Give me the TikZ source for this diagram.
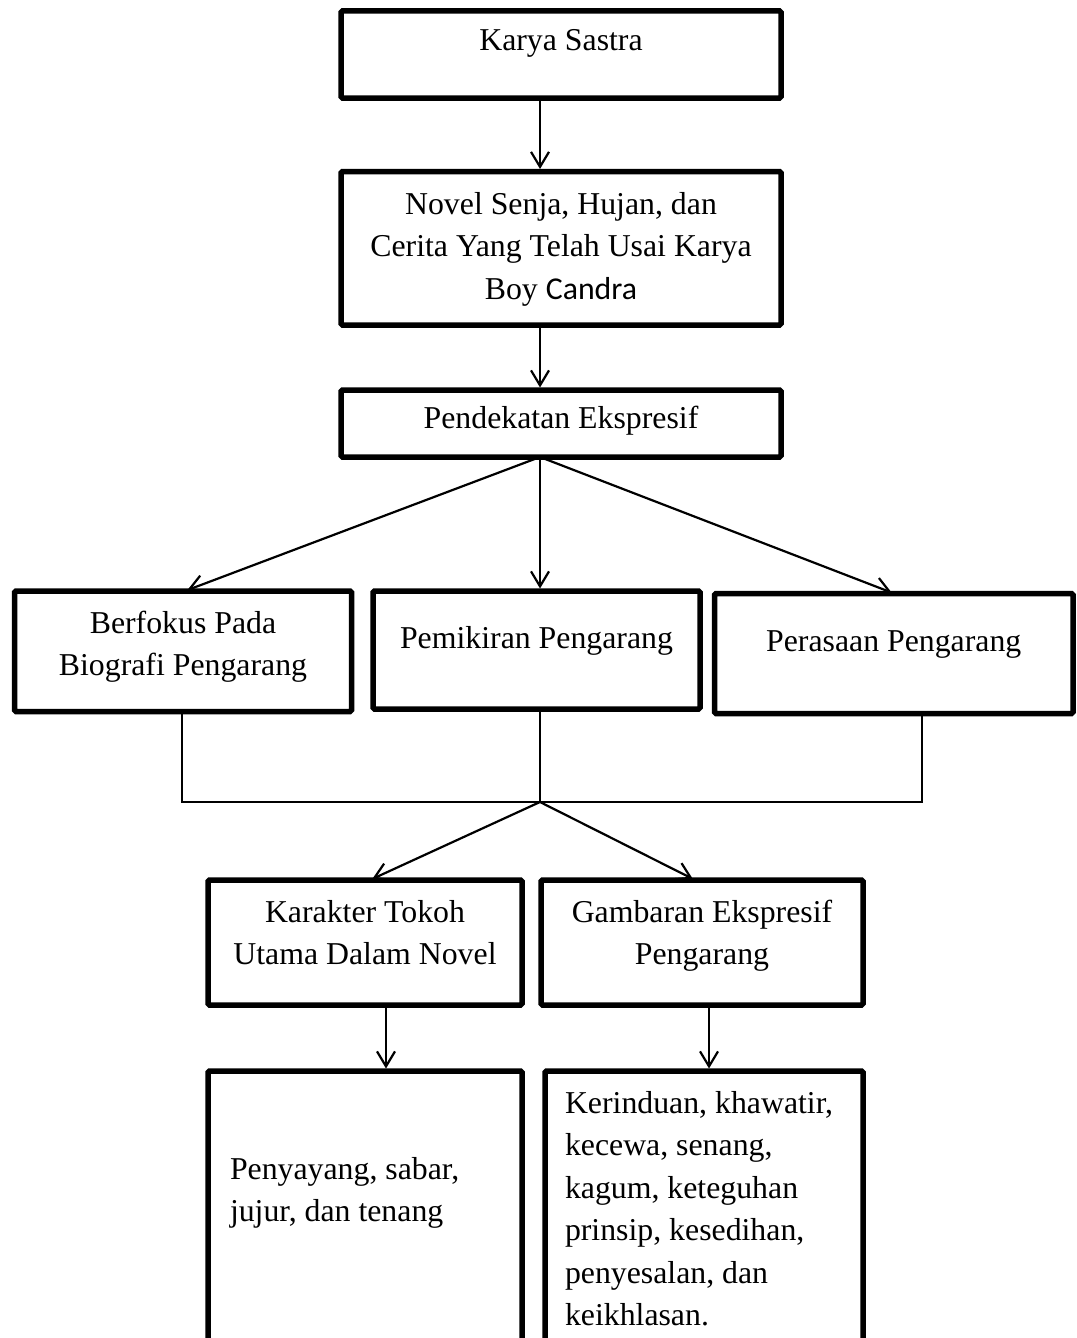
\documentclass[tikz,border=0pt]{standalone}
\usepackage{fontspec}
\setmainfont{Liberation Serif}
\newfontfamily\calibfont{Carlito}
\usetikzlibrary{arrows.meta}
\newcommand\inbox[5]{\begin{minipage}[t][#2][t]{#1}#4\rule{0pt}{#3}#5\end{minipage}}
\begin{document}
\begin{tikzpicture}[x=1pt,y=-1pt,
  box/.style={draw, line width=5.5pt, rounded corners=1.5pt, inner sep=0pt, outer sep=0pt,
    anchor=north west, font=\fontsize{31.8}{42.5}\selectfont},
  ln/.style={line width=2.2pt},
  arr/.style={ln, -{Straight Barb[length=15pt,width=18pt]}, shorten >=2.5pt}]
\path[fill=white, use as bounding box] (0,0) rectangle (1076,1338);
\clip (0,0) rectangle (1076,1338);

\node[box] (n1) at (341,11) {\inbox{440pt}{87pt}{40pt}{\centering}{Karya Sastra}};
\node[box] (n2) at (341,171.5) {\inbox{440pt}{153.5pt}{42.5pt}{\centering}{Novel Senja, Hujan, dan\\Cerita Yang Telah Usai Karya\\Boy {\calibfont Candra}}};
\node[box] (n3) at (341,390) {\inbox{440pt}{67pt}{38pt}{\centering}{Pendekatan Ekspresif}};
\node[box] (n4) at (14.5,591) {\inbox{337pt}{120.5pt}{42pt}{\centering}{Berfokus Pada\\Biografi Pengarang}};
\node[box] (n5) at (373,591) {\inbox{327pt}{118pt}{57pt}{\centering}{Pemikiran Pengarang}};
\node[box] (n6) at (714.5,593.5) {\inbox{358.5pt}{120pt}{57.5pt}{\centering}{Perasaan Pengarang}};
\node[box] (n7) at (208,880) {\inbox{314pt}{125pt}{42pt}{\centering}{Karakter Tokoh\\Utama Dalam Novel}};
\node[box] (n8) at (541,880) {\inbox{322pt}{125pt}{42pt}{\centering}{Gambaran Ekspresif\\Pengarang}};
\node[box] (n9) at (208,1071) {\inbox{314pt}{309pt}{108pt}{\raggedright\leftskip=22pt\relax}{Penyayang, sabar,\\jujur, dan tenang}};
\node[box] (n10) at (545,1071) {\inbox{318pt}{309pt}{42pt}{\raggedright\leftskip=20pt\relax}{Kerinduan, khawatir,\\kecewa, senang,\\kagum, keteguhan\\prinsip, kesedihan,\\penyesalan, dan\\keikhlasan.}};

\draw[arr] (540,0 |- n1.south) -- (540,0 |- n2.north);
\draw[arr] (540,0 |- n2.south) -- (540,0 |- n3.north);
\draw[arr] (540,0 |- n3.south) -- (185,0 |- n4.north);
\draw[arr] (540,0 |- n3.south) -- (540,0 |- n5.north);
\draw[arr] (540,0 |- n3.south) -- (894,0 |- n6.north);

\coordinate (jl) at (182,802);
\coordinate (jm) at (540,802);
\coordinate (jr) at (922,802);
\draw[ln] (182,0 |- n4.south) -- (jl) -- (jr) -- (922,0 |- n6.south);
\draw[ln] (540,0 |- n5.south) -- (jm);
\draw[arr] (jm) -- (370,0 |- n7.north);
\draw[arr] (jm) -- (695,0 |- n8.north);

\draw[arr] (386,0 |- n7.south) -- (386,0 |- n9.north);
\draw[arr] (709,0 |- n8.south) -- (709,0 |- n10.north);
\end{tikzpicture}
\end{document}
